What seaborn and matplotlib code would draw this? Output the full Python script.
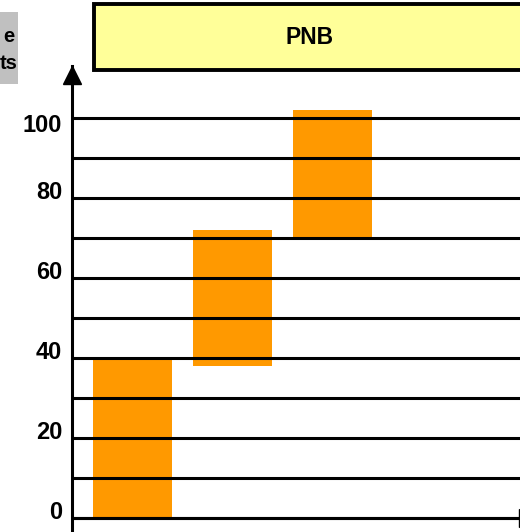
import matplotlib
matplotlib.use("Agg")
import matplotlib.pyplot as plt
from matplotlib.patches import Rectangle
from matplotlib.transforms import ScaledTranslation
import seaborn as sns
import pandas as pd

# ---- data ----
steps = ["Étape 1", "Étape 2", "Étape 3"]
bar_bottoms = [0, 38, 70]
bar_tops = [39.7, 72, 102]
ytick_values = [0, 20, 40, 60, 80, 100]
ytick_labels = ["0", "20", "40", "60", "80", "100"]
grid_minor = [10, 30, 50, 70, 90]
title_text = "PNB"
side_text = "e\nts"

sns.set_theme(style="white")
plt.rcParams["font.family"] = ["Liberation Sans", "DejaVu Sans"]
plt.rcParams["font.weight"] = "bold"

W, H = 520, 532
fig = plt.figure(figsize=(W / 100, H / 100), dpi=100)

def fx(x):
    return x / W

def fy(y):
    return 1 - y / H

ax_left, ax_right, ax_top, ax_bot = 72, 520, 66, 532
ax = fig.add_axes([fx(ax_left), fy(ax_bot), (ax_right - ax_left) / W, (ax_bot - ax_top) / H])

df = pd.DataFrame({"step": steps, "top": bar_tops})
sns.barplot(data=df, x="step", y="top", color="#FF9900", saturation=1,
            width=0.79, ax=ax, linewidth=0)
for patch, b, t in zip(ax.patches, bar_bottoms, bar_tops):
    patch.set_y(b)
    patch.set_height(t - b)
    patch.set_edgecolor("none")

# scale: 4 px per unit, 0 at pixel 518
y0 = 518
ax.set_ylim(-(ax_bot - y0) / 4, (y0 - ax_top) / 4)
ax.set_xlim(-0.605, -0.605 + (ax_right - ax_left) / 100)

ax.set_yticks(ytick_values)
ax.set_yticklabels(ytick_labels, fontsize=17, fontweight="bold", color="black")
ax.set_yticks(grid_minor, minor=True)
ax.tick_params(axis="y", which="both", length=0, pad=7, labelcolor="black")
ax.set_xticks([])
ax.set_xlabel("")
ax.set_ylabel("")

ax.set_axisbelow(False)
ax.grid(which="both", axis="y", color="black", linewidth=2.2)
ax.grid(axis="x", visible=False)

# shift the tick labels slightly like the reference
offsets = [8, 8, 8, 8, 8, -5]
for lab, dy in zip(ax.get_yticklabels(), offsets):
    lab.set_transform(lab.get_transform() + ScaledTranslation(0, dy / 100, fig.dpi_scale_trans))

for s in ["top", "right", "bottom"]:
    ax.spines[s].set_visible(False)
ax.spines["left"].set_color("black")
ax.spines["left"].set_linewidth(2.2)

# x-axis line
ax.axhline(0, color="black", linewidth=2.2, zorder=3, clip_on=False)
# arrowheads
ax.plot([0], [(y0 - 74.5) / 4], marker="^", markersize=13, color="black",
        transform=ax.get_yaxis_transform(), clip_on=False, zorder=4)
ax.plot([(528 - ax_left) / (ax_right - ax_left)], [0], marker=">", markersize=13,
        color="black", transform=ax.get_yaxis_transform(), clip_on=False, zorder=4)

# title box
tb_x0, tb_x1, tb_y0, tb_y1 = 94, 540, 4, 70
fig.add_artist(Rectangle((fx(tb_x0), fy(tb_y1)), (tb_x1 - tb_x0) / W, (tb_y1 - tb_y0) / H,
                         transform=fig.transFigure, facecolor="#FFFF99",
                         edgecolor="black", linewidth=2.8))
fig.text(fx(310), fy(38), title_text, ha="center", va="center",
         fontsize=16.5, fontweight="bold", color="black")

# gray side box
fig.add_artist(Rectangle((fx(-10), fy(84)), 28 / W, (84 - 12) / H,
                         transform=fig.transFigure, facecolor="#C0C0C0",
                         edgecolor="none"))
fig.text(fx(18), fy(50), side_text, ha="right", va="center", fontsize=14.5,
         fontweight="bold", color="black", linespacing=1.5, multialignment="center")

fig.savefig("out.png", dpi=100)
